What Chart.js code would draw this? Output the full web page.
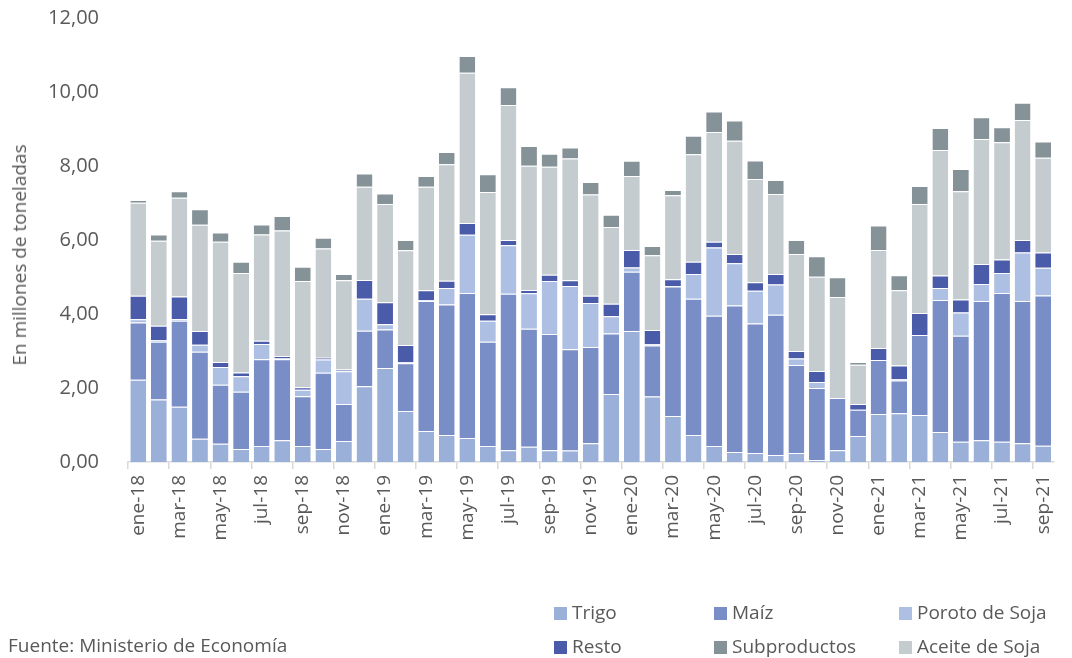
<!DOCTYPE html>
<html>
<head>
<meta charset="utf-8">
<script src="https://cdn.jsdelivr.net/npm/chart.js@4.4.0/dist/chart.umd.min.js"></script>
<style>
  body { margin: 0; background: #fff; font-family: "Open Sans", sans-serif; color: #595959; }
  #wrap { position: relative; width: 1072px; height: 658px; overflow: hidden; }
  #grafico { position: absolute; left: 0; top: 0; }
  .titulo-y { position: absolute; left: 19px; top: 255px; font-size: 19px; white-space: nowrap;
              transform: translate(-50%, -50%) rotate(-90deg); }
  .fuente { position: absolute; left: 8px; top: 633px; font-size: 19px; line-height: 24px; }
  .leyenda { position: absolute; font-size: 19px; line-height: 24px; white-space: nowrap; }
  .leyenda span { display: inline-block; width: 13px; height: 13px; margin-right: 5px; vertical-align: -1px; }
</style>
</head>
<body>
<div id="wrap">
  <canvas id="grafico" width="1072" height="658"></canvas>
  <div class="titulo-y">En millones de toneladas</div>
  <div class="fuente">Fuente: Ministerio de Economía</div>
  <div id="leyenda"></div>
</div>
<script>
// Datos (millones de toneladas)
const meses = ['ene-18','feb-18','mar-18','abr-18','may-18','jun-18','jul-18','ago-18','sep-18','oct-18','nov-18','dic-18',
  'ene-19','feb-19','mar-19','abr-19','may-19','jun-19','jul-19','ago-19','sep-19','oct-19','nov-19','dic-19',
  'ene-20','feb-20','mar-20','abr-20','may-20','jun-20','jul-20','ago-20','sep-20','oct-20','nov-20','dic-20',
  'ene-21','feb-21','mar-21','abr-21','may-21','jun-21','jul-21','ago-21','sep-21'];

const trigo = [2.22,1.69,1.49,0.63,0.49,0.35,0.43,0.59,0.43,0.35,0.57,
  2.05,2.54,1.38,0.84,0.73,0.65,0.43,0.32,0.41,0.32,0.31,0.51,1.84,3.54,1.77,1.24,
  0.73,0.43,0.27,0.24,0.19,0.24,0.05,0.32,0.70,1.30,1.32,1.27,0.81,0.55,0.59,0.55,0.51,0.44];
const maiz = [1.55,1.56,2.33,2.35,1.60,1.55,2.35,2.19,1.35,2.06,1.00,
  1.50,1.04,1.29,3.51,3.53,3.92,2.82,4.23,3.19,3.14,2.74,2.60,1.63,1.60,1.38,3.50,
  3.68,3.52,3.96,3.50,3.79,2.38,1.95,1.41,0.71,1.46,0.88,2.16,3.57,2.86,3.76,4.02,3.84,4.06];
const poroto = [0.09,0.05,0.04,0.19,0.48,0.42,0.41,0.03,0.17,0.36,0.88,
  0.86,0.14,0.03,0.02,0.44,1.57,0.57,1.31,0.96,1.43,1.71,1.19,0.47,0.12,0.04,0.02,
  0.67,1.85,1.14,0.89,0.82,0.18,0.16,0,0,0,0.04,0,0.32,0.63,0.46,0.54,1.31,0.75];
const resto = [0.63,0.38,0.61,0.37,0.13,0.10,0.09,0.05,0.07,0.05,0.05,
  0.51,0.60,0.46,0.27,0.20,0.32,0.17,0.14,0.09,0.17,0.15,0.19,0.34,0.47,0.38,0.18,
  0.33,0.15,0.25,0.23,0.28,0.20,0.30,0,0.16,0.32,0.37,0.60,0.34,0.35,0.54,0.36,0.34,0.41];
const aceite = [2.52,2.30,2.67,2.87,3.25,2.69,2.87,3.40,2.87,2.95,2.41,
  2.52,2.65,2.56,2.80,3.15,4.06,3.31,3.65,3.36,2.92,3.29,2.74,2.07,2.00,2.02,2.27,
  2.91,2.97,3.06,2.79,2.16,2.62,2.55,2.73,1.06,2.65,2.03,2.94,3.39,2.93,3.38,3.17,3.24,2.56];
const subproductos = [0.07,0.17,0.18,0.42,0.25,0.30,0.27,0.39,0.39,0.29,0.17,
  0.36,0.29,0.28,0.29,0.33,0.45,0.48,0.48,0.53,0.35,0.30,0.34,0.33,0.41,0.25,0.14,
  0.50,0.55,0.55,0.50,0.38,0.38,0.55,0.53,0.07,0.66,0.41,0.49,0.60,0.60,0.59,0.41,0.47,0.44];

const ticksY = [0, 2, 4, 6, 8, 10, 12];

const colores = {
  trigo: '#9bb0d8', maiz: '#798dc6', poroto: '#aebfe4',
  resto: '#4a5ba9', sub: '#859298', aceite: '#c5ccd0'
};
const textoGris = '#595959';

// Serie (orden de apilado de abajo hacia arriba)
const series = [
  { label: 'Trigo', data: trigo, color: colores.trigo },
  { label: 'Maíz', data: maiz, color: colores.maiz },
  { label: 'Poroto de Soja', data: poroto, color: colores.poroto },
  { label: 'Resto', data: resto, color: colores.resto },
  { label: 'Aceite de Soja', data: aceite, color: colores.aceite },
  { label: 'Subproductos', data: subproductos, color: colores.sub }
];

new Chart(document.getElementById('grafico'), {
  type: 'bar',
  data: {
    labels: meses,
    datasets: series.map(s => ({
      label: s.label,
      data: s.data,
      backgroundColor: s.color,
      borderColor: 'rgba(255,255,255,0.85)',
      borderWidth: { top: 1, left: 0, right: 0, bottom: 0 },
      borderSkipped: 'start',
      barPercentage: 0.77,
      categoryPercentage: 1
    }))
  },
  options: {
    responsive: false,
    animation: false,
    layout: { padding: { left: 0, right: 4, top: 18, bottom: 0 } },
    plugins: { legend: { display: false }, tooltip: { enabled: false } },
    scales: {
      x: {
        stacked: true,
        offset: true,
        afterFit: s => { s.height = 196; },
        border: { color: '#d9d9d9', width: 1.5 },
        grid: {
          offset: true,
          drawOnChartArea: false,
          drawTicks: true,
          tickLength: 7,
          lineWidth: 1.5,
          color: ctx => (ctx.index !== undefined && ctx.index % 2 === 0) ? '#d9d9d9' : 'rgba(0,0,0,0)'
        },
        ticks: {
          autoSkip: false,
          maxRotation: 90,
          minRotation: 90,
          padding: 6,
          color: textoGris,
          font: { family: 'Open Sans', size: 19 },
          callback: (v, i) => i % 2 === 0 ? meses[i] : ''
        }
      },
      y: {
        stacked: true,
        min: ticksY[0],
        max: ticksY[ticksY.length - 1],
        afterFit: s => { s.width = 128; s.paddingTop = 0; s.paddingBottom = 0; },
        afterBuildTicks: s => { s.ticks = ticksY.map(v => ({ value: v })); },
        border: { display: false },
        grid: { display: false, drawTicks: false },
        ticks: {
          padding: 29,
          color: textoGris,
          font: { family: 'Open Sans', size: 20 },
          callback: v => v.toFixed(2).replace('.', ',')
        }
      }
    }
  }
});

// Leyenda (3 columnas, 2 filas)
const ordenLeyenda = [
  ['Trigo', colores.trigo, 554, 600], ['Maíz', colores.maiz, 714, 600], ['Poroto de Soja', colores.poroto, 899, 600],
  ['Resto', colores.resto, 554, 634], ['Subproductos', colores.sub, 714, 634], ['Aceite de Soja', colores.aceite, 899, 634]
];
const cont = document.getElementById('leyenda');
ordenLeyenda.forEach(([txt, col, x, y]) => {
  const d = document.createElement('div');
  d.className = 'leyenda';
  d.style.left = x + 'px';
  d.style.top = y + 'px';
  d.innerHTML = `<span style="background:${col}"></span>${txt}`;
  cont.appendChild(d);
});
</script>
</body>
</html>
